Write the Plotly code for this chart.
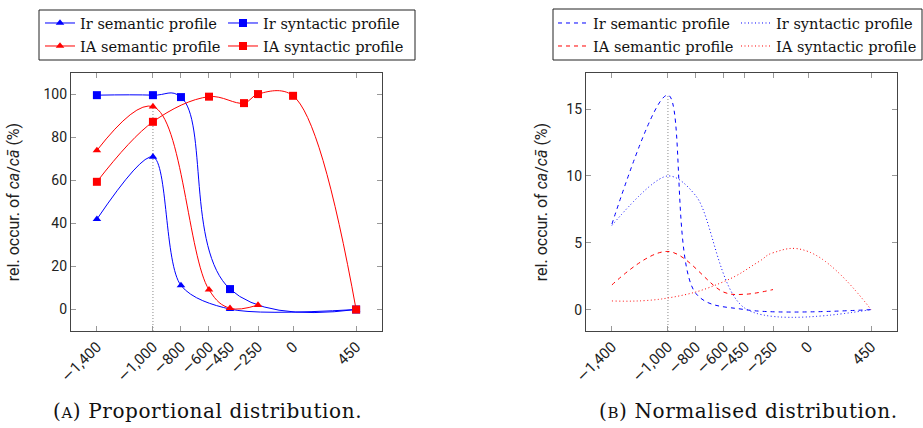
import plotly.graph_objects as go

# ---------------- data ----------------
tick_vals = [-1400, -1000, -800, -600, -450, -250, 0, 450]
tick_text = ["\u22121,400", "\u22121,000", "\u2212800", "\u2212600", "\u2212450", "\u2212250", "0", "450"]

series_names = ["Ir semantic profile", "Ir syntactic profile", "IA semantic profile", "IA syntactic profile"]

x_ir_sem = [-1400, -1000, -800, -450, 450]
x_ir_syn = [-1400, -1000, -800, -450, 450]
x_ia_sem = [-1400, -1000, -600, -450, -250]
x_ia_syn = [-1400, -1000, -600, -350, -250, 0, 450]

# (A) proportional distribution (%)
prop_ir_sem = [42, 71, 11.2, 0.2, 0]
prop_ir_syn = [99.7, 99.7, 98.8, 9.5, 0]
prop_ia_sem = [74, 94.4, 9.2, 0.6, 2.1]
prop_ia_syn = [59.4, 87.3, 99, 96, 100.2, 99.4, 0]

# (B) normalised distribution (%)
norm_ir_sem = [6.4, 16.05, 1.2, 0, 0]
norm_ir_syn = [6.3, 10.0, 8.5, 0.1, 0]
norm_ia_sem = [1.85, 4.35, 1.3, 1.15, 1.5]
norm_ia_syn = [0.65, 0.87, 2.1, 3.6, 4.25, 4.35, 0]

marker_line = -1000

BLUE = "#0000ff"
RED = "#ff0000"
SERIF = "DejaVu Serif"
SANS = "Roboto"
W, H = 923, 428

xr = [-1585, 635]
yr_a = [-10, 110]
yr_b = [-1.6, 17.7]

# wide math-style minus sign in tick labels
MINUS = "<span style='font-family:DejaVu Sans'>\u2212</span>"
tick_html = [t.replace("\u2212", MINUS) for t in tick_text]

fig = go.Figure()


def sem_at(xs, ys, x):
    return ys[xs.index(x)]


top_a = max(sem_at(x_ir_sem, prop_ir_sem, marker_line), sem_at(x_ia_sem, prop_ia_sem, marker_line))
top_b = max(sem_at(x_ir_sem, norm_ir_sem, marker_line), sem_at(x_ia_sem, norm_ia_sem, marker_line))
fig.add_trace(go.Scatter(x=[marker_line, marker_line], y=[yr_a[0], top_a], mode="lines",
                         line=dict(color="#888888", width=1, dash="1px,2px"), showlegend=False,
                         hoverinfo="skip", xaxis="x", yaxis="y"))
fig.add_trace(go.Scatter(x=[marker_line, marker_line], y=[yr_b[0], top_b], mode="lines",
                         line=dict(color="#888888", width=1, dash="1px,2px"), showlegend=False,
                         hoverinfo="skip", xaxis="x2", yaxis="y2"))

left = [
    (x_ir_sem, prop_ir_sem, BLUE, "triangle-up", series_names[0], 0.85),
    (x_ir_syn, prop_ir_syn, BLUE, "square", series_names[1], 1.2),
    (x_ia_sem, prop_ia_sem, RED, "triangle-up", series_names[2], 1.1),
    (x_ia_syn, prop_ia_syn, RED, "square", series_names[3], 1.05),
]
for i, (xs, ys, col, sym, name, sm) in enumerate(left):
    fig.add_trace(go.Scatter(
        x=xs, y=ys, name=name, mode="lines+markers",
        line=dict(color=col, width=1, shape="spline", smoothing=sm),
        marker=dict(symbol=sym, size=8 if sym == "square" else 7.5, color=col, line=dict(width=0)),
        xaxis="x", yaxis="y", legend="legend" if i == 0 else f"legend{i + 1}"))

right = [
    (x_ir_sem, norm_ir_sem, BLUE, "4px,4px", series_names[0], 0.95),
    (x_ir_syn, norm_ir_syn, BLUE, "1px,2.5px", series_names[1], 0.9),
    (x_ia_sem, norm_ia_sem, RED, "4px,4px", series_names[2], 1.0),
    (x_ia_syn, norm_ia_syn, RED, "1px,2.5px", series_names[3], 1.3),
]
for i, (xs, ys, col, dash, name, sm) in enumerate(right):
    fig.add_trace(go.Scatter(
        x=xs, y=ys, name=name, mode="lines",
        line=dict(color=col, width=1, shape="spline", smoothing=sm, dash=dash),
        xaxis="x2", yaxis="y2", legend=f"legend{i + 5}"))

axis_common = dict(
    showline=True, linecolor="#444444", linewidth=1.3, mirror="ticks",
    ticks="inside", ticklen=5, tickcolor="#999999", tickwidth=1,
    showgrid=False, zeroline=False, automargin=False,
)
yfont = dict(family=SANS, size=14, color="#222222")
xfont = dict(family=SANS, size=15, color="#222222")
tfont = dict(family=SANS, size=16, color="#222222")

ytitle = "rel. occur. of <i>ca</i>/<i>c\u0101</i> (%)"

# legend cell positions (pixels): (left origin x, row centre y)
legend_cells = [(40, 23), (223, 23), (40, 46), (223, 46),
                (553, 23), (736, 23), (553, 46), (736, 46)]
legend_layout = {}
for k, (lx, ly) in enumerate(legend_cells):
    key = "legend" if k == 0 else f"legend{k + 1}"
    legend_layout[key] = dict(
        x=lx / W, y=1 - ly / H, xanchor="left", yanchor="middle",
        bgcolor="rgba(0,0,0,0)", borderwidth=0,
        font=dict(family=SERIF, size=14.6, color="#111111"), itemwidth=30)

cap_style = "letter-spacing:0.6px"
fig.update_layout(
    width=W, height=H,
    margin=dict(l=0, r=0, t=0, b=0, autoexpand=False),
    paper_bgcolor="white", plot_bgcolor="white",
    xaxis=dict(domain=[0.0769, 0.4139], range=xr, tickvals=tick_vals, ticktext=tick_html,
               tickangle=-45, anchor="y", tickfont=xfont, **axis_common),
    yaxis=dict(domain=[0.2266, 0.8294], range=yr_a, tickvals=[0, 20, 40, 60, 80, 100],
               anchor="x", tickfont=yfont,
               title=dict(text=ytitle, font=tfont, standoff=19),
               **axis_common),
    xaxis2=dict(domain=[0.6349, 0.9718], range=xr, tickvals=tick_vals, ticktext=tick_html,
                tickangle=-45, anchor="y2", tickfont=xfont, **axis_common),
    yaxis2=dict(domain=[0.2266, 0.8294], range=yr_b, tickvals=[0, 5, 10, 15],
                anchor="x2", tickfont=yfont,
                title=dict(text=ytitle, font=tfont, standoff=14),
                **axis_common),
    shapes=[
        dict(type="rect", xref="paper", yref="paper", x0=39 / W, x1=415 / W, y0=1 - 60 / H, y1=1 - 10 / H,
             line=dict(color="#222222", width=1)),
        dict(type="rect", xref="paper", yref="paper", x0=553 / W, x1=922 / W, y0=1 - 60 / H, y1=1 - 9 / H,
             line=dict(color="#222222", width=1)),
    ],
    annotations=[
        dict(text=f"<span style='{cap_style}'>(<span style='font-size:15px'>A</span>) Proportional distribution.</span>",
             x=207 / W, y=1 - 411 / H, xref="paper", yref="paper", xanchor="center", yanchor="middle",
             showarrow=False, font=dict(family=SERIF, size=20, color="#111111")),
        dict(text=f"<span style='{cap_style}'>(<span style='font-size:15px'>B</span>) Normalised distribution.</span>",
             x=748 / W, y=1 - 411 / H, xref="paper", yref="paper", xanchor="center", yanchor="middle",
             showarrow=False, font=dict(family=SERIF, size=20, color="#111111")),
    ],
    **legend_layout,
)

fig.write_html("out.html")
